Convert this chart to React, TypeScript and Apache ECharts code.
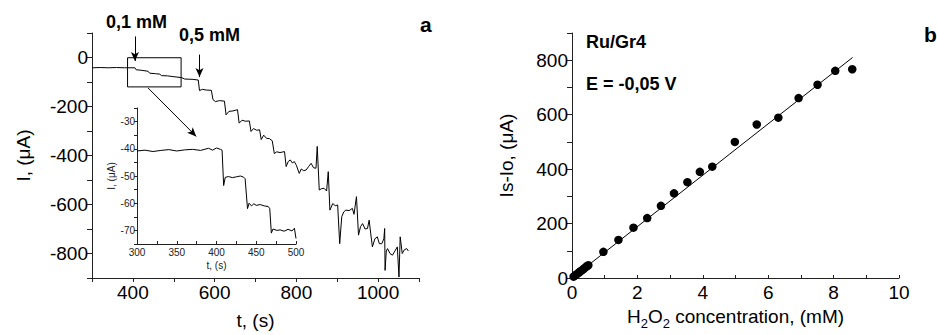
import React, { useEffect, useRef } from "react";
import * as echarts from "echarts";

// Main amperometric trace (panel a)
const mainT = [300, 320, 340, 360, 380, 405, 408, 420, 437, 441, 455, 466, 470, 485, 498, 519, 527, 545, 560, 563, 570, 580, 592, 596, 602, 612, 624, 628, 635, 645, 656, 660, 667, 675, 685, 689, 695, 703, 710, 714, 720, 727, 734, 741, 746, 752, 760, 771, 775, 780, 785, 790, 795, 800, 807, 812, 818, 824, 830, 836, 842, 848, 851, 856, 862, 868, 874, 878, 882, 889, 895, 901, 906, 911, 916, 921, 929, 937, 941, 947, 952, 957, 962, 968, 974, 978, 982, 986, 992, 998, 1003, 1009, 1014, 1016, 1017, 1020, 1023, 1029, 1035, 1041, 1047, 1051, 1054, 1059, 1064, 1070, 1074];
const mainI = [-42, -41, -42, -41, -42, -42, -50, -52, -56, -64, -66, -68, -74, -75, -78, -82, -88, -89, -92, -135, -130, -133, -134, -172, -180, -176, -178, -234, -220, -218, -213, -268, -256, -260, -259, -302, -290, -297, -295, -335, -317, -330, -331, -340, -392, -385, -388, -384, -445, -425, -418, -430, -425, -440, -473, -455, -462, -459, -445, -432, -450, -452, -363, -541, -535, -534, -545, -466, -623, -596, -605, -602, -760, -650, -630, -623, -625, -616, -640, -568, -725, -690, -678, -700, -698, -664, -720, -773, -740, -732, -760, -760, -740, -698, -869, -790, -780, -800, -807, -790, -773, -896, -732, -800, -785, -780, -790];

// Inset trace (300-500 s)
const insetT = [300, 310, 320, 330, 340, 350, 360, 370, 380, 390, 395, 400, 405, 407, 409, 411, 415, 420, 425, 430, 434, 436, 439, 441, 444, 447, 450, 455, 460, 465, 467, 469, 471, 476, 480, 485, 490, 495, 498, 500];
const insetI = [-40.8, -40.5, -41, -40.6, -40.3, -40.8, -40.4, -40.2, -40.6, -39.8, -40.5, -39.7, -40.2, -40.5, -53.5, -50.5, -50.2, -50.6, -50.3, -50, -50.4, -51, -62, -60, -61, -60.2, -60.8, -60.5, -61, -61.2, -62, -71, -69.5, -70, -69.8, -70.3, -69.6, -70.2, -69.2, -73];

// Calibration (panel b)
const concX = [0.05, 0.1, 0.15, 0.2, 0.25, 0.3, 0.35, 0.4, 0.45, 0.5, 0.96, 1.42, 1.88, 2.3, 2.72, 3.12, 3.53, 3.91, 4.29, 4.98, 5.65, 6.31, 6.93, 7.51, 8.05, 8.57];
const respY = [5, 10, 14, 19, 24, 28, 33, 38, 43, 47, 96, 140, 185, 220, 265, 311, 352, 390, 409, 500, 564, 589, 661, 710, 761, 767];
const fitX = [0, 8.58];
const fitY = [0, 810];

const FONT = "'Liberation Sans', Arial, sans-serif";
const TXT = "#000";
const AX = "#222";

const zip = (a: number[], b: number[]) => a.map((v, i) => [v, b[i]]);

export default function App() {
  const ref = useRef<HTMLDivElement>(null);
  useEffect(() => {
    if (!ref.current) return;
    const chart = echarts.init(ref.current, undefined, { renderer: "svg" });
    const axisLine = { show: true, onZero: false, lineStyle: { color: AX, width: 1 } };
    const bigLabel = { color: TXT, fontSize: 19, fontFamily: FONT };
    const smallLabel = { color: "#222", fontSize: 10, fontFamily: FONT };
    chart.setOption({
      animation: false,
      textStyle: { fontFamily: FONT },
      grid: [
        { left: 92, top: 33, width: 327, height: 245 },
        { left: 137, top: 108, width: 159, height: 136 },
        { left: 572, top: 33, width: 327, height: 245 },
      ],
      xAxis: [
        {
          type: "value", gridIndex: 0, min: 300, max: 1100, interval: 100,
          axisLine, splitLine: { show: false },
          axisTick: { show: true, inside: false, length: 4, lineStyle: { color: AX } },
          axisLabel: { ...bigLabel, interval: 0, margin: 5, formatter: (v: number) => (v % 200 === 0 && v >= 400 && v <= 1000 ? String(v) : "") },
          name: "t, (s)", nameLocation: "middle", nameGap: 33,
          nameTextStyle: { color: TXT, fontSize: 19, fontFamily: FONT },
        },
        {
          type: "value", gridIndex: 1, min: 300, max: 500, interval: 25,
          axisLine, splitLine: { show: false },
          axisTick: { show: true, inside: true, length: 3, lineStyle: { color: AX } },
          axisLabel: { ...smallLabel, interval: 0, margin: 3, formatter: (v: number) => (v % 50 === 0 ? String(v) : "") },
          name: "t, (s)", nameLocation: "middle", nameGap: 16,
          nameTextStyle: { color: "#222", fontSize: 10, fontFamily: FONT },
        },
        {
          type: "value", gridIndex: 2, min: 0, max: 10, interval: 1,
          axisLine, splitLine: { show: false },
          axisTick: { show: true, inside: true, length: 3, lineStyle: { color: AX } },
          axisLabel: { ...bigLabel, interval: 0, margin: 5, formatter: (v: number) => (v % 2 === 0 ? String(v) : "") },
          name: "{n|H}{s|2}{n|O}{s|2}{n| concentration, (mM)}",
          nameLocation: "middle", nameGap: 22,
          nameTextStyle: {
            color: TXT, fontFamily: FONT,
            rich: {
              n: { fontSize: 19, fontFamily: FONT, color: TXT },
              s: { fontSize: 13, fontFamily: FONT, color: TXT, verticalAlign: "bottom", padding: [14, 0, 0, 0] },
            },
          },
        },
      ],
      yAxis: [
        {
          type: "value", gridIndex: 0, min: -900, max: 100, interval: 100,
          axisLine, splitLine: { show: false },
          axisTick: { show: true, inside: false, length: 5, lineStyle: { color: AX } },
          axisLabel: { ...bigLabel, interval: 0, margin: 4, formatter: (v: number) => (v % 200 === 0 && v <= 0 && v >= -800 ? String(v) : "") },
          name: "I, (μA)", nameLocation: "middle", nameGap: 59,
          nameTextStyle: { color: TXT, fontSize: 19, fontFamily: FONT },
        },
        {
          type: "value", gridIndex: 1, min: -75, max: -25, interval: 5,
          axisLine, splitLine: { show: false },
          axisTick: { show: true, inside: false, length: 3, lineStyle: { color: AX } },
          axisLabel: { ...smallLabel, interval: 0, margin: 2, formatter: (v: number) => (v % 10 === 0 && v <= -30 && v >= -70 ? String(v) : "") },
          name: "I, (μA)", nameLocation: "middle", nameGap: 20,
          nameTextStyle: { color: "#222", fontSize: 10, fontFamily: FONT },
        },
        {
          type: "value", gridIndex: 2, min: 0, max: 900, interval: 100,
          axisLine, splitLine: { show: false },
          axisTick: { show: true, inside: false, length: 5, lineStyle: { color: AX } },
          axisLabel: { ...bigLabel, interval: 0, margin: 4, formatter: (v: number) => (v % 200 === 0 && v <= 800 ? String(v) : "") },
          name: "Is-Io, (μA)", nameLocation: "middle", nameGap: 56,
          nameTextStyle: { color: TXT, fontSize: 19, fontFamily: FONT },
        },
      ],
      series: [
        {
          type: "line", xAxisIndex: 0, yAxisIndex: 0, data: zip(mainT, mainI),
          showSymbol: false, lineStyle: { color: "#000", width: 1 }, z: 3,
          markArea: {
            silent: true,
            itemStyle: { color: "rgba(0,0,0,0)", borderColor: "#000", borderWidth: 1 },
            data: [[{ coord: [387, -1] }, { coord: [518, -120] }]],
          },
          markLine: {
            silent: true, symbol: ["none", "arrow"], symbolSize: [6, 9],
            lineStyle: { color: "#000", width: 1, type: "solid" },
            label: { show: false },
            data: [
              [{ coord: [405, 86] }, { coord: [405, -14] }],
              [{ coord: [563, 12] }, { coord: [563, -80] }],
              [{ coord: [437, -124] }, { coord: [555, -322] }],
            ],
          },
        },
        {
          type: "line", xAxisIndex: 1, yAxisIndex: 1, data: zip(insetT, insetI),
          showSymbol: false, lineStyle: { color: "#000", width: 1 }, z: 3,
        },
        {
          type: "line", xAxisIndex: 2, yAxisIndex: 2, data: zip(fitX, fitY),
          showSymbol: false, lineStyle: { color: "#000", width: 1 },
        },
        {
          type: "scatter", xAxisIndex: 2, yAxisIndex: 2, data: zip(concX, respY),
          symbol: "circle", symbolSize: 8.5, itemStyle: { color: "#000", opacity: 1 },
        },
      ],
      graphic: [
        { type: "text", left: 106, top: 13, style: { text: "0,1 mM", font: `bold 18px ${FONT}`, fill: TXT } },
        { type: "text", left: 179, top: 26, style: { text: "0,5 mM", font: `bold 18px ${FONT}`, fill: TXT } },
        { type: "text", left: 420, top: 14, style: { text: "a", font: `bold 21px ${FONT}`, fill: TXT } },
        { type: "text", left: 586, top: 33, style: { text: "Ru/Gr4", font: `bold 18px ${FONT}`, fill: TXT } },
        { type: "text", left: 586, top: 75, style: { text: "E = -0,05 V", font: `bold 18px ${FONT}`, fill: TXT } },
        { type: "text", left: 924, top: 24, style: { text: "b", font: `bold 21px ${FONT}`, fill: TXT } },
      ],
    });
    return () => chart.dispose();
  }, []);
  return <div ref={ref} style={{ position: "fixed", left: 0, top: 0, width: 937, height: 335, background: "#fff" }} />;
}
